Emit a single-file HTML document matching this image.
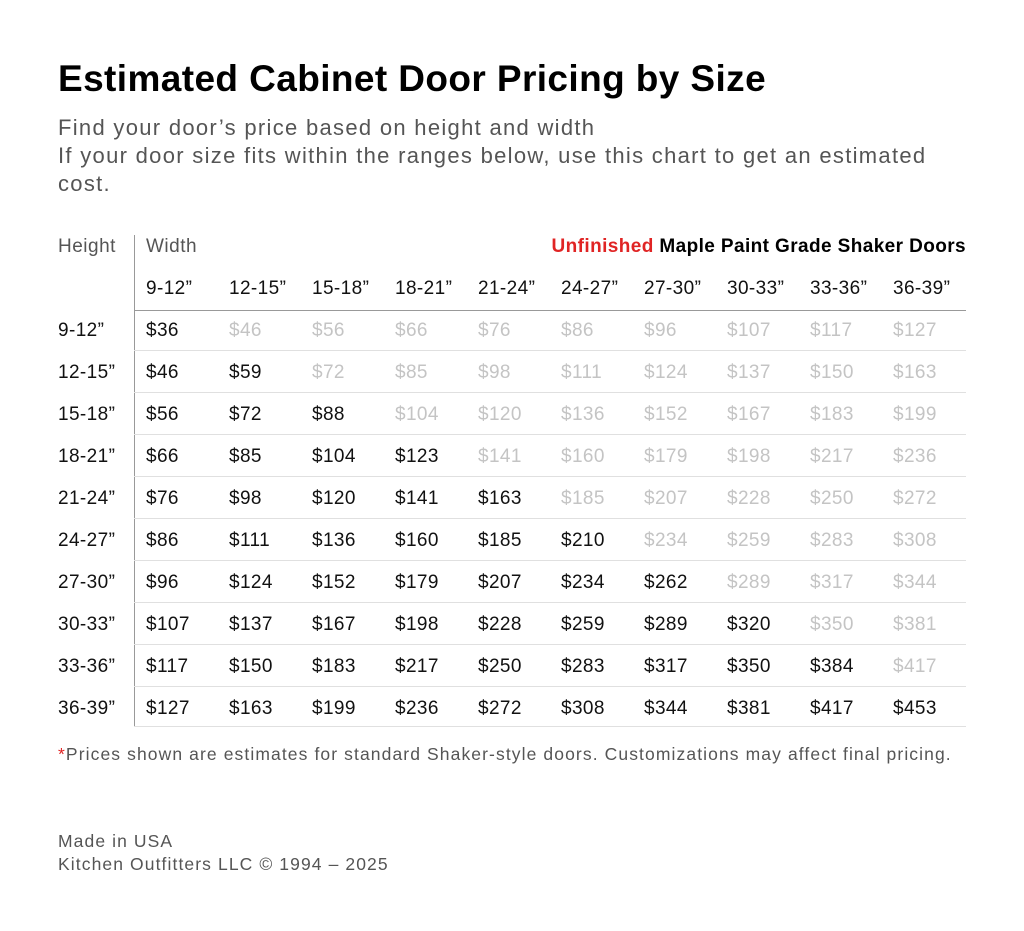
<!DOCTYPE html>
<html><head><meta charset="utf-8"><style>
body{margin:0;width:1024px;height:931px;background:#fff;font-family:"Liberation Sans",sans-serif;position:relative;overflow:hidden}
.a{position:absolute;white-space:nowrap}
h1{position:absolute;left:58px;top:58px;margin:0;font-size:37px;font-weight:bold;color:#000;white-space:nowrap;letter-spacing:0.4px}
.sub{position:absolute;left:58px;top:114px;font-size:22px;line-height:28px;color:#555;width:960px;letter-spacing:1.3px}
.r{position:absolute;left:0;width:1024px;height:42px;font-size:19px;color:#111;letter-spacing:0.4px}
.r span{position:absolute;top:11px}
.r .g{color:#c4c4c4}
.ln{position:absolute;left:134px;width:832px;height:1px;background:#e0e0e0}
</style></head><body>
<h1>Estimated Cabinet Door Pricing by Size</h1>
<div class="sub">Find your door’s price based on height and width<br>If your door size fits within the ranges below, use this chart to get an estimated<br>cost.</div>
<div class="a" style="left:58px;top:236px;font-size:19px;color:#555;letter-spacing:0.5px">Height</div>
<div class="a" style="left:146px;top:236px;font-size:19px;color:#555;letter-spacing:0.5px">Width</div>
<div class="a" style="right:58px;top:236px;font-size:19px;font-weight:bold;color:#000;letter-spacing:0.4px"><span style="color:#e02424">Unfinished</span> Maple Paint Grade Shaker Doors</div>
<div style="position:absolute;left:134px;top:235px;width:1px;height:491px;background:#999"></div>
<div class="r" style="top:267px"><span style="left:146px">9-12”</span><span style="left:229px">12-15”</span><span style="left:312px">15-18”</span><span style="left:395px">18-21”</span><span style="left:478px">21-24”</span><span style="left:561px">24-27”</span><span style="left:644px">27-30”</span><span style="left:727px">30-33”</span><span style="left:810px">33-36”</span><span style="left:893px">36-39”</span></div>
<div style="position:absolute;left:134px;top:310px;width:832px;height:1px;background:#999"></div>

<div class="r" style="top:309px"><span style="left:58px">9-12”</span><span style="left:146px">$36</span><span class="g" style="left:229px">$46</span><span class="g" style="left:312px">$56</span><span class="g" style="left:395px">$66</span><span class="g" style="left:478px">$76</span><span class="g" style="left:561px">$86</span><span class="g" style="left:644px">$96</span><span class="g" style="left:727px">$107</span><span class="g" style="left:810px">$117</span><span class="g" style="left:893px">$127</span></div>
<div class="ln" style="top:350px"></div>
<div class="r" style="top:351px"><span style="left:58px">12-15”</span><span style="left:146px">$46</span><span style="left:229px">$59</span><span class="g" style="left:312px">$72</span><span class="g" style="left:395px">$85</span><span class="g" style="left:478px">$98</span><span class="g" style="left:561px">$111</span><span class="g" style="left:644px">$124</span><span class="g" style="left:727px">$137</span><span class="g" style="left:810px">$150</span><span class="g" style="left:893px">$163</span></div>
<div class="ln" style="top:392px"></div>
<div class="r" style="top:393px"><span style="left:58px">15-18”</span><span style="left:146px">$56</span><span style="left:229px">$72</span><span style="left:312px">$88</span><span class="g" style="left:395px">$104</span><span class="g" style="left:478px">$120</span><span class="g" style="left:561px">$136</span><span class="g" style="left:644px">$152</span><span class="g" style="left:727px">$167</span><span class="g" style="left:810px">$183</span><span class="g" style="left:893px">$199</span></div>
<div class="ln" style="top:434px"></div>
<div class="r" style="top:435px"><span style="left:58px">18-21”</span><span style="left:146px">$66</span><span style="left:229px">$85</span><span style="left:312px">$104</span><span style="left:395px">$123</span><span class="g" style="left:478px">$141</span><span class="g" style="left:561px">$160</span><span class="g" style="left:644px">$179</span><span class="g" style="left:727px">$198</span><span class="g" style="left:810px">$217</span><span class="g" style="left:893px">$236</span></div>
<div class="ln" style="top:476px"></div>
<div class="r" style="top:477px"><span style="left:58px">21-24”</span><span style="left:146px">$76</span><span style="left:229px">$98</span><span style="left:312px">$120</span><span style="left:395px">$141</span><span style="left:478px">$163</span><span class="g" style="left:561px">$185</span><span class="g" style="left:644px">$207</span><span class="g" style="left:727px">$228</span><span class="g" style="left:810px">$250</span><span class="g" style="left:893px">$272</span></div>
<div class="ln" style="top:518px"></div>
<div class="r" style="top:519px"><span style="left:58px">24-27”</span><span style="left:146px">$86</span><span style="left:229px">$111</span><span style="left:312px">$136</span><span style="left:395px">$160</span><span style="left:478px">$185</span><span style="left:561px">$210</span><span class="g" style="left:644px">$234</span><span class="g" style="left:727px">$259</span><span class="g" style="left:810px">$283</span><span class="g" style="left:893px">$308</span></div>
<div class="ln" style="top:560px"></div>
<div class="r" style="top:561px"><span style="left:58px">27-30”</span><span style="left:146px">$96</span><span style="left:229px">$124</span><span style="left:312px">$152</span><span style="left:395px">$179</span><span style="left:478px">$207</span><span style="left:561px">$234</span><span style="left:644px">$262</span><span class="g" style="left:727px">$289</span><span class="g" style="left:810px">$317</span><span class="g" style="left:893px">$344</span></div>
<div class="ln" style="top:602px"></div>
<div class="r" style="top:603px"><span style="left:58px">30-33”</span><span style="left:146px">$107</span><span style="left:229px">$137</span><span style="left:312px">$167</span><span style="left:395px">$198</span><span style="left:478px">$228</span><span style="left:561px">$259</span><span style="left:644px">$289</span><span style="left:727px">$320</span><span class="g" style="left:810px">$350</span><span class="g" style="left:893px">$381</span></div>
<div class="ln" style="top:644px"></div>
<div class="r" style="top:645px"><span style="left:58px">33-36”</span><span style="left:146px">$117</span><span style="left:229px">$150</span><span style="left:312px">$183</span><span style="left:395px">$217</span><span style="left:478px">$250</span><span style="left:561px">$283</span><span style="left:644px">$317</span><span style="left:727px">$350</span><span style="left:810px">$384</span><span class="g" style="left:893px">$417</span></div>
<div class="ln" style="top:686px"></div>
<div class="r" style="top:687px"><span style="left:58px">36-39”</span><span style="left:146px">$127</span><span style="left:229px">$163</span><span style="left:312px">$199</span><span style="left:395px">$236</span><span style="left:478px">$272</span><span style="left:561px">$308</span><span style="left:644px">$344</span><span style="left:727px">$381</span><span style="left:810px">$417</span><span style="left:893px">$453</span></div>
<div class="ln" style="top:726px"></div>

<div class="a" style="left:58px;top:744px;font-size:17.5px;color:#555;letter-spacing:1.1px"><span style="color:#e02424">*</span>Prices shown are estimates for standard Shaker-style doors. Customizations may affect final pricing.</div>
<div class="a" style="left:58px;top:830px;font-size:17.5px;line-height:23px;color:#555;letter-spacing:1.1px">Made in USA<br>Kitchen Outfitters LLC © 1994 – 2025</div>
</body></html>
